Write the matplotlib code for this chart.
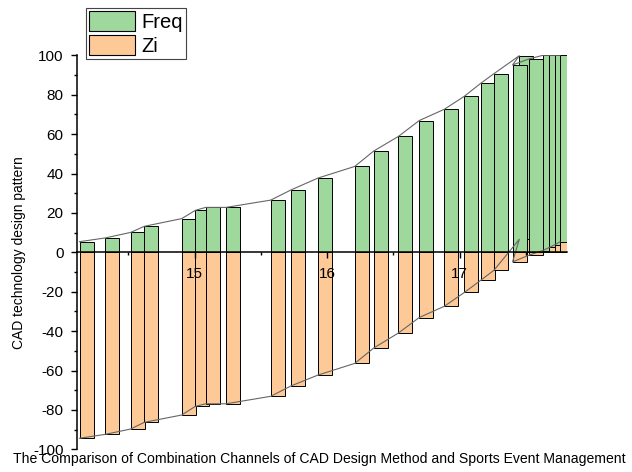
import matplotlib
matplotlib.use('Agg')
import matplotlib.pyplot as plt
from matplotlib.patches import Patch
from matplotlib.ticker import MultipleLocator, FixedLocator
import numpy as np

plt.rcParams['font.family'] = ['Liberation Sans', 'DejaVu Sans']
plt.rcParams['axes.unicode_minus'] = False

# ---- data (in plotting order) ----
x = [14.185, 14.380, 14.571, 14.674, 14.956, 15.059, 15.137, 15.291, 15.628,
     15.779, 15.985, 16.262, 16.405, 16.591, 16.749, 16.938, 17.089, 17.213,
     17.313, 17.504, 17.453, 17.575, 17.681, 17.731, 17.774, 17.811]
freq = [5.4, 7.3, 10.1, 13.2, 17.1, 21.3, 22.8, 22.8, 26.5, 31.6, 37.7, 43.6,
        51.4, 58.8, 66.9, 72.6, 79.2, 85.8, 90.7, 99.8, 95.1, 98.1, 100, 100,
        100, 100]
zi = [-94.4, -92.4, -89.7, -86.3, -82.6, -78.2, -76.9, -76.9, -73.1, -67.9,
      -62.3, -56.4, -48.6, -41.0, -33.1, -27.4, -20.4, -14.2, -9.1, 6.6, -4.9,
      -1.5, 0.9, 2.5, 3.9, 5.3]
series_labels = ['Freq', 'Zi']
x_ticks = [15, 16, 17]
y_ticks = [-100, -80, -60, -40, -20, 0, 20, 40, 60, 80, 100]
x_label = ('The Comparison of Combination Channels of CAD Design Method and '
           'Sports Event Management')
y_label = 'CAD technology design pattern'

# ---- style ----
green = '#9fd89c'
orange = '#fdc997'
bar_w = 0.1057

fig = plt.figure(figsize=(6.32, 4.72), dpi=100)
ax = fig.add_axes([0.1214, 0.0481, 0.7753, 0.8347])

gbars = ax.bar(x, freq, width=bar_w, color=green, edgecolor='black', linewidth=0.7)
obars = ax.bar(x, zi, width=bar_w, color=orange, edgecolor='black', linewidth=0.7)
for i, (g, o) in enumerate(zip(gbars, obars)):
    g.set_zorder(2 + 2 * i)
    o.set_zorder(3 + 2 * i)

# connect lines through the outer-left corners of the bars
xs = np.asarray(x)
for vals in (freq, zi):
    ax.plot(xs - bar_w / 2, vals, color='#666666', lw=0.8, zorder=80)

ax.set_xlim(14.111, 17.809)
ax.set_ylim(-100, 100)

for s in ('top', 'right'):
    ax.spines[s].set_visible(False)
ax.spines['bottom'].set_position(('data', 0))
for s in ('left', 'bottom'):
    ax.spines[s].set_linewidth(1.1)
    ax.spines[s].set_zorder(100)
ax.xaxis.set_zorder(100)
ax.yaxis.set_zorder(100)

ax.xaxis.set_major_locator(FixedLocator(x_ticks))
ax.xaxis.set_minor_locator(FixedLocator([14.5, 15.5, 16.5, 17.5]))
ax.yaxis.set_major_locator(FixedLocator(y_ticks))
ax.yaxis.set_minor_locator(MultipleLocator(10))
ax.tick_params(which='major', direction='out', length=4.5, width=1.0,
               labelsize=11)
ax.tick_params(axis='x', which='major', pad=6)
ax.tick_params(axis='y', which='major', pad=5)
ax.tick_params(which='minor', direction='out', length=2.5, width=1.0)

ax.set_ylabel(y_label, fontsize=10)
ax.yaxis.set_label_coords(-0.1045, 0.4995)
ax.set_xlabel(x_label, fontsize=10.1)
ax.xaxis.set_label_coords(0.4955, -0.006)

handles = [Patch(facecolor=green, edgecolor='black', linewidth=0.8),
           Patch(facecolor=orange, edgecolor='black', linewidth=0.8)]
leg = ax.legend(handles, series_labels, loc='upper left',
                bbox_to_anchor=(86 / 632, 1 - 8.3 / 472),
                bbox_transform=fig.transFigure, fontsize=14.5,
                handlelength=2.3, handleheight=1.15, handletextpad=0.3,
                labelspacing=0.15, borderpad=0.15, borderaxespad=0,
                frameon=True, fancybox=False, edgecolor='#444444',
                framealpha=1)
leg.get_frame().set_linewidth(0.8)
leg.set_zorder(200)

fig.savefig('out.png', dpi=100)
